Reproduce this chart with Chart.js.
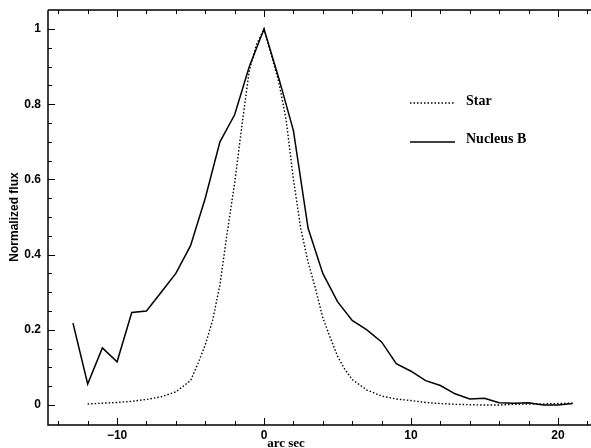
<!DOCTYPE html>
<html>
<head>
<meta charset="utf-8">
<script src="https://cdn.jsdelivr.net/npm/chart.js@4/dist/chart.umd.min.js"></script>
<style>
html,body{margin:0;padding:0;background:#fff;}
#wrap{width:591px;height:448px;}
</style>
</head>
<body>
<div id="wrap"><canvas id="c" width="591" height="448"></canvas></div>
<script>
// ---- data ----
const nucX = [-13,-12,-11,-10,-9,-8,-7,-6,-5,-4,-3,-2,-1,0,1,2,3,4,5,6,7,8,9,10,11,12,13,14,15,16,17,18,19,20,21];
const nucY = [0.218,0.056,0.152,0.115,0.246,0.250,0.300,0.350,0.424,0.550,0.700,0.772,0.900,1.000,0.870,0.730,0.470,0.350,0.275,0.225,0.200,0.168,0.110,0.090,0.065,0.052,0.030,0.016,0.018,0.006,0.005,0.006,0.000,0.000,0.004];
const starX = [-12,-11,-10,-9,-8,-7,-6,-5,-4.5,-4,-3.5,-3,-2.5,-2,-1.5,-1,-0.5,0,0.5,1,1.5,2,2.5,3,3.5,4,4.5,5,5.5,6,7,8,9,10,11,12,13,14,15,16,17,18,19,20,21];
const starY = [0.003,0.005,0.007,0.010,0.015,0.022,0.035,0.065,0.110,0.160,0.225,0.320,0.460,0.590,0.745,0.890,0.960,1.000,0.930,0.860,0.760,0.600,0.470,0.380,0.310,0.232,0.180,0.130,0.095,0.068,0.040,0.024,0.016,0.012,0.007,0.004,0.002,0.001,0.000,0.000,0.002,0.003,0.003,0.004,0.005];
const xTickLabels = [-10, 0, 10, 20];
const yTickLabels = [0, 0.2, 0.4, 0.6, 0.8, 1];
const seriesNames = ["Star", "Nucleus B"];
const xTitle = "arc sec";
const yTitle = "Normalized flux";

const toPts = (xs, ys) => xs.map((x, i) => ({x: x, y: ys[i]}));

const axesPlugin = {
  id: 'axesPlugin',
  afterDraw(chart) {
    const ctx = chart.ctx;
    const xs = chart.scales.x, ys = chart.scales.y;
    const a = chart.chartArea;
    ctx.save();
    ctx.strokeStyle = '#000';
    ctx.fillStyle = '#000';
    // spines
    ctx.lineWidth = 1.5;
    ctx.beginPath();
    ctx.moveTo(a.left, a.top); ctx.lineTo(a.left, a.bottom); ctx.lineTo(a.right + 2, a.bottom);
    ctx.moveTo(a.left, a.top); ctx.lineTo(a.right + 2, a.top);
    ctx.stroke();
    // x ticks (every 2 units, major every 10)
    ctx.lineWidth = 1;
    ctx.beginPath();
    for (let v = -14; v <= 22; v += 2) {
      const px = Math.round(xs.getPixelForValue(v)) + 0.5;
      const major = v % 10 === 0;
      const L = major ? 7 : 4;
      ctx.moveTo(px, a.bottom); ctx.lineTo(px, a.bottom - L);
      ctx.moveTo(px, a.top); ctx.lineTo(px, a.top + L);
    }
    // y ticks (every 0.05, major every 0.2)
    for (let k = 0; k <= 20; k++) {
      const v = k * 0.05;
      const py = Math.round(ys.getPixelForValue(v)) + 0.5;
      const major = k % 4 === 0;
      const L = major ? 7 : 4;
      ctx.moveTo(a.left, py); ctx.lineTo(a.left + L, py);
    }
    ctx.stroke();
    // tick labels
    ctx.font = 'bold 12px "Liberation Sans", Arial, sans-serif';
    ctx.textAlign = 'center';
    ctx.textBaseline = 'middle';
    xTickLabels.forEach(v => {
      const txt = v < 0 ? '\u2212' + Math.abs(v) : String(v);
      ctx.fillText(txt, xs.getPixelForValue(v), a.bottom + 11);
    });
    ctx.textAlign = 'right';
    yTickLabels.forEach(v => {
      ctx.fillText(String(v), a.left - 7, ys.getPixelForValue(v));
    });
    // axis titles
    ctx.font = 'bold 13px "Liberation Serif", "Times New Roman", serif';
    ctx.textAlign = 'center';
    ctx.fillText(xTitle, 286, a.bottom + 19);
    ctx.save();
    ctx.translate(15, 217);
    ctx.rotate(-Math.PI / 2);
    ctx.font = 'bold 12px "Liberation Sans", Arial, sans-serif';
    ctx.fillText(yTitle, 0, 0);
    ctx.restore();
    // legend
    ctx.font = 'bold 14px "Liberation Serif", "Times New Roman", serif';
    ctx.textAlign = 'left';
    ctx.lineWidth = 1.3;
    ctx.setLineDash([1.5, 2]);
    ctx.beginPath(); ctx.moveTo(410, 103); ctx.lineTo(454, 103); ctx.stroke();
    ctx.setLineDash([]);
    ctx.lineWidth = 1.5;
    ctx.beginPath(); ctx.moveTo(410, 142); ctx.lineTo(455, 142); ctx.stroke();
    ctx.fillText(seriesNames[0], 466, 101);
    ctx.fillText(seriesNames[1], 466, 139);
    ctx.restore();
  }
};

new Chart(document.getElementById('c'), {
  type: 'line',
  data: {
    datasets: [
      {label: seriesNames[0], data: toPts(starX, starY), borderColor: '#000', borderWidth: 1.4, borderDash: [1.5, 2], pointRadius: 0, tension: 0, fill: false},
      {label: seriesNames[1], data: toPts(nucX, nucY), borderColor: '#000', borderWidth: 1.5, pointRadius: 0, tension: 0, fill: false}
    ]
  },
  options: {
    responsive: false,
    animation: false,
    layout: {padding: {left: 48, top: 10, right: 0, bottom: 23}},
    plugins: {legend: {display: false}, tooltip: {enabled: false}},
    scales: {
      x: {type: 'linear', min: -14.7, max: 22.25, display: false},
      y: {type: 'linear', min: -0.053, max: 1.0505, display: false}
    }
  },
  plugins: [axesPlugin]
});
</script>
</body>
</html>
